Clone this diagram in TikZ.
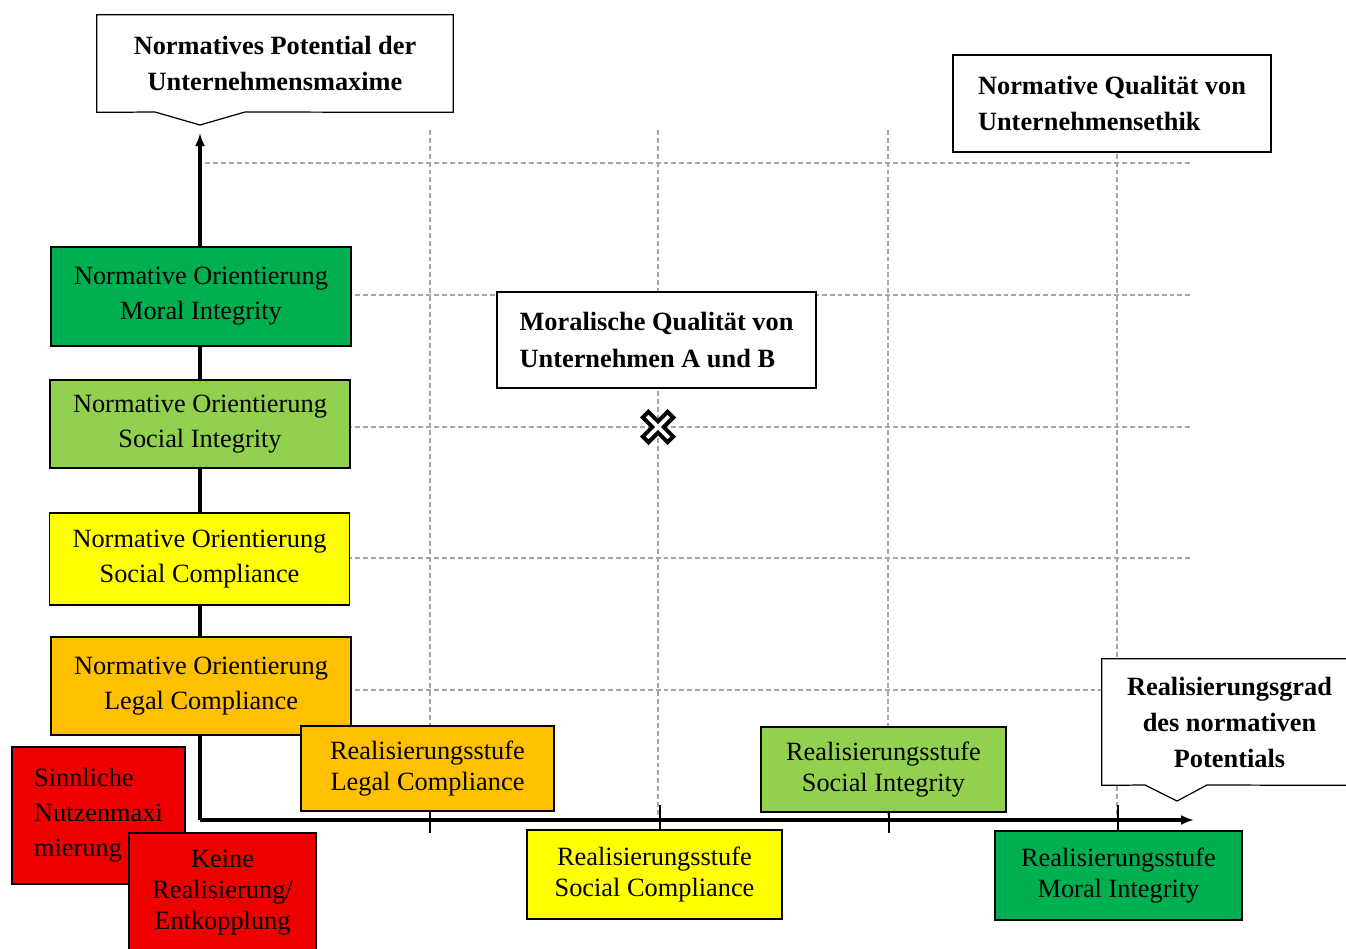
\documentclass[tikz,border=0pt]{standalone}
\usepackage{fontspec}
\setmainfont{Liberation Serif}
\usetikzlibrary{arrows.meta, positioning}

\definecolor{moralgreen}{HTML}{00B050}
\definecolor{socialgreen}{HTML}{92D050}
\definecolor{compyellow}{HTML}{FFFF00}
\definecolor{legalorange}{HTML}{FFC000}
\definecolor{nonred}{HTML}{EE0000}
\definecolor{gridgray}{HTML}{A6A6A6}

\begin{document}
\begin{tikzpicture}[x=0.02cm, y=-0.02cm,
    lvl/.style={draw, line width=1.1pt, minimum width=6cm, align=center, font=\fontsize{15}{20}\selectfont, inner sep=2pt},
    stufe/.style={draw, line width=1.1pt, align=center, font=\fontsize{15}{18}\selectfont, inner sep=2pt},
    redbox/.style={draw, line width=1.1pt, fill=nonred, inner sep=2pt},
    calltext/.style={align=center, font=\bfseries\fontsize{15}{20.5}\selectfont, inner sep=0pt},
    callline/.style={draw, line width=0.7pt, fill=white},
    textbox/.style={draw, line width=0.7pt, fill=white, align=left, font=\bfseries\fontsize{15}{20.5}\selectfont},
    gridline/.style={gridgray, dash pattern=on 2.8pt off 1.7pt, line width=0.6pt},
    axisline/.style={line width=2pt, -{Latex[length=2.6mm,width=2mm]}},
    axtick/.style={line width=1.2pt},
    crossmark/.style={draw, line width=0.08cm, fill=white}
]
    \useasboundingbox (0,0) rectangle (1346,948);

    \foreach \gx in {430,658,888,1117}
        \draw[gridline] (\gx,130) -- (\gx,820);
    \foreach \gy in {163,295,427,558,690}
        \draw[gridline] (205,\gy) -- (1192,\gy);

    \coordinate (origin) at (200,820);
    \coordinate (ytop) at (200,133);
    \coordinate (xend) at (1194,820);
    \draw[axisline] (origin) -- (ytop);
    \draw[axisline] (origin) -- (xend);
    \foreach \tx in {430,660,889,1118}
        \draw[axtick] (\tx,805) -- (\tx,833);

    \node[lvl, fill=moralgreen, minimum height=1.98cm] (nomoral) at (201,296.5) {Normative Orientierung\\Moral Integrity};
    \node[lvl, fill=socialgreen, minimum height=1.76cm] (nosocint) at (200,424) {Normative Orientierung\\Social Integrity};
    \node[lvl, fill=compyellow, minimum height=1.84cm] (nosoccomp) at (199.5,559) {Normative Orientierung\\Social Compliance};
    \node[lvl, fill=legalorange, minimum height=1.96cm] (nolegal) at (201,686) {Normative Orientierung\\Legal Compliance};

    \node[redbox, minimum width=3.46cm, minimum height=2.74cm, align=left,
          font=\fontsize{15}{20}\selectfont] (sinn) at (98.5,815.5) {Sinnliche\\Nutzenmaxi\\mierung};
    \node[redbox, minimum width=3.74cm, minimum height=2.38cm, align=center,
          font=\fontsize{15}{17.5}\selectfont] (keine) at (222.5,892.5) {Keine\\Realisierung/\\Entkopplung};

    \node[stufe, fill=legalorange, minimum width=5.06cm, minimum height=1.7cm] (rlegal) at (427.5,768.5) {Realisierungsstufe\\Legal Compliance};
    \node[stufe, fill=compyellow, minimum width=5.1cm, minimum height=1.78cm] (rsoccomp) at (654.5,874.5) {Realisierungsstufe\\Social Compliance};
    \node[stufe, fill=socialgreen, minimum width=4.9cm, minimum height=1.7cm] (rsocint) at (883.5,769.5) {Realisierungsstufe\\Social Integrity};
    \node[stufe, fill=moralgreen, minimum width=4.94cm, minimum height=1.78cm] (rmoral) at (1118.5,875.5) {Realisierungsstufe\\Moral Integrity};

    \node[calltext, minimum width=7.12cm, minimum height=1.94cm] (potential) at (275,63.5) {Normatives Potential der\\Unternehmensmaxime};
    \draw[callline] (potential.south west) -- (potential.north west) -- (potential.north east)
        -- (potential.south east) -- (245,112) -- (200,125) -- (155,112) -- cycle;
    \node[calltext] at (potential) {Normatives Potential der\\Unternehmensmaxime};

    \node[calltext, minimum width=5.1cm, minimum height=2.52cm] (grad) at (1229.5,722) {Realisierungsgrad\\des normativen\\Potentials};
    \draw[callline] (grad.south west) -- (grad.north west) -- (grad.north east)
        -- (grad.south east) -- (1207,785) -- (1177,801) -- (1145,785) -- cycle;
    \node[calltext] at (grad) {Realisierungsgrad\\des normativen\\Potentials};

    \node[textbox, minimum width=6.36cm, minimum height=1.94cm] (ethik) at (1112,103.5) {Normative Qualität von\\Unternehmensethik};
    \node[textbox, minimum width=6.38cm, minimum height=1.92cm] (moralab) at (656.5,340) {Moralische Qualität von\\Unternehmen A und B};

    \coordinate (ab) at (658,427);
    \draw[crossmark, shift={(ab)}, rotate=45] (-4,-17.5) -- (4,-17.5) -- (4,-4) -- (17.5,-4) -- (17.5,4) -- (4,4)
        -- (4,17.5) -- (-4,17.5) -- (-4,4) -- (-17.5,4) -- (-17.5,-4) -- (-4,-4) -- cycle;
\end{tikzpicture}
\end{document}
